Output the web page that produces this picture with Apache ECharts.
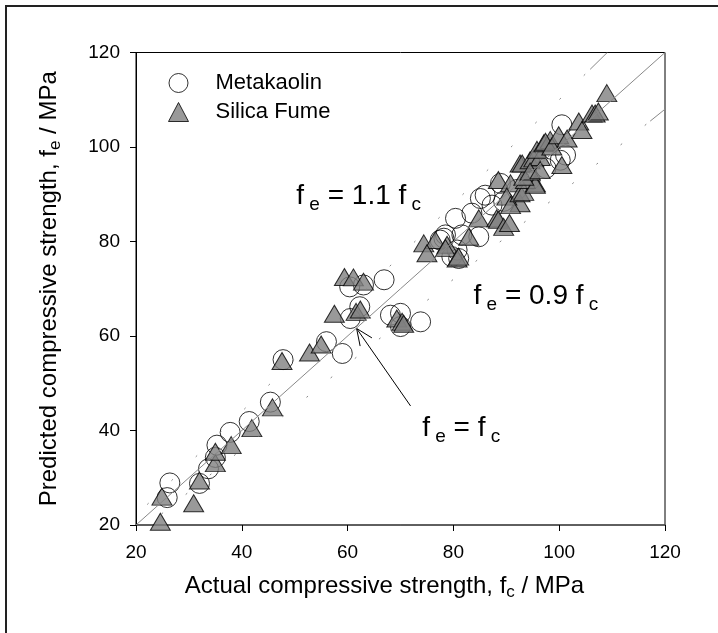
<!DOCTYPE html>
<html>
<head>
<meta charset="utf-8">
<script src="https://cdn.jsdelivr.net/npm/echarts@6/dist/echarts.min.js"></script>
<style>
html, body { margin: 0; padding: 0; background: #fff; }
#chart { width: 718px; height: 633px; }
</style>
</head>
<body>
<div id="chart"></div>
<script>
// actual strength f_c (x) vs predicted f_e (y), MPa
const metakaolin = [
  [25.9, 25.8], [26.4, 28.9], [32.0, 28.8], [33.7, 31.9], [35.0, 34.3], [35.3, 36.9],
  [37.8, 39.6], [41.4, 41.9], [45.4, 46.0], [47.8, 55.0], [56.0, 58.8], [59.0, 56.3],
  [60.5, 63.7], [62.3, 66.2], [60.4, 70.4], [63.0, 70.8], [66.9, 71.9], [68.1, 64.4],
  [70.0, 64.8], [70.0, 62.0], [73.8, 63.0], [77.5, 80.3], [78.2, 80.7], [79.7, 76.8],
  [80.7, 78.2], [81.0, 76.4], [78.5, 81.4], [81.6, 81.4], [84.8, 81.0], [80.4, 84.9],
  [83.5, 86.0], [86.0, 89.8], [87.3, 87.7], [85.1, 89.1], [88.9, 92.3], [89.5, 88.5],
  [92.0, 91.0], [100.5, 104.7], [101.2, 98.3], [100.2, 97.2], [97.5, 95.5], [94.5, 93.0]
]
const silicaFume = [
  [24.6, 20.7], [24.9, 26.0], [30.9, 24.6], [32.0, 29.4], [35.0, 33.1], [35.0, 35.5],
  [38.0, 36.9], [41.9, 40.5], [45.8, 44.9], [47.6, 54.7], [52.8, 56.5], [55.0, 58.2],
  [57.5, 64.7], [59.4, 72.5], [61.1, 72.4], [63.0, 71.5], [61.6, 65.1], [62.4, 65.6],
  [69.3, 63.7], [70.3, 63.0], [70.6, 62.6], [74.4, 79.6], [76.6, 80.3], [78.8, 79.3],
  [75.0, 77.5], [78.5, 78.6], [80.7, 76.4], [81.0, 76.8], [82.9, 81.0], [84.8, 84.9],
  [88.2, 84.9], [88.5, 84.6], [89.5, 83.1], [90.6, 83.9], [92.6, 88.1], [88.5, 93.0],
  [90.8, 92.3], [90.1, 89.5], [90.8, 87.7], [92.6, 90.2], [93.3, 90.5], [95.5, 92.3],
  [93.6, 93.0], [95.5, 92.0], [93.3, 93.7], [92.6, 96.5], [93.0, 96.5], [94.5, 97.2],
  [95.2, 97.6], [96.4, 97.9], [94.5, 94.8], [96.4, 95.1], [95.8, 99.4], [97.1, 100.8],
  [98.3, 101.5], [97.4, 101.1], [98.6, 100.1], [99.9, 102.5], [101.5, 101.8], [100.5, 96.2],
  [103.7, 105.4], [104.3, 103.6], [106.2, 107.1], [106.8, 107.1], [107.4, 107.5], [109.0, 111.4]
]

// reference lines f_e = k * f_c
const solidSlope = 1.0
const boundSlopes = [1.1, 0.9]

// annotations (data coords of text anchor, left / middle)
const noteAnchors = [[50.3, 89.6], [83.8, 68.5], [74.1, 40.5]]
const noteTexts = [
  '{m|f}{s| e}{m| = 1.1 f}{s| c}',
  '{m|f}{s| e}{m| = 0.9 f}{s| c}',
  '{m|f}{s| e}{m| = f}{s| c}'
]
const arrowFrom = [71.9, 45.2]
const arrowTo = [61.7, 61.6]

const axisMin = 20
const axisMax = 120
const axisStep = 20

const FONT = 'Liberation Sans'

function lineEnds (k) {
  const x0 = Math.max(axisMin, axisMin / k)
  const x1 = Math.min(axisMax, axisMax / k)
  // drawn from the top end down so the dash pattern starts there
  return [[x1, k * x1], [x0, k * x0]]
}

function dashPattern (first, firstGap, spacing) {
  const arr = [first, firstGap]
  for (let i = 0; i < 40; i++) arr.push(2, spacing)
  return arr
}

const chart = echarts.init(document.getElementById('chart'))

const noteRich = {
  m: { fontSize: 28, fontFamily: FONT, lineHeight: 36, fill: '#000' },
  s: { fontSize: 19, fontFamily: FONT, lineHeight: 10, verticalAlign: 'bottom', fill: '#000' }
}

const titleRich = {
  t: { fontSize: 24, fontFamily: FONT, color: '#000', lineHeight: 30 },
  s: { fontSize: 17, fontFamily: FONT, color: '#000', lineHeight: 10, verticalAlign: 'bottom' }
}

const option = {
  animation: false,
  backgroundColor: '#fff',
  graphic: [{
    type: 'rect',
    silent: true,
    z: -10,
    shape: { x: 6, y: 6, width: 900, height: 900 },
    style: { fill: null, stroke: '#222', lineWidth: 2 }
  }],
  grid: { left: 136, right: 53, top: 52.5, bottom: 108, show: true, borderColor: '#000', borderWidth: 1 },
  legend: {
    orient: 'vertical',
    left: 163,
    top: 67,
    itemWidth: 20,
    itemHeight: 19,
    itemGap: 7,
    selectedMode: false,
    itemStyle: { borderWidth: 1, borderColor: '#000' },
    textStyle: { fontSize: 22, fontFamily: FONT, color: '#000', padding: [0, 0, 0, 22] },
    data: [
      { name: 'Metakaolin', icon: 'circle' },
      { name: 'Silica Fume', icon: 'triangle' }
    ]
  },
  xAxis: {
    type: 'value',
    min: axisMin,
    max: axisMax,
    interval: axisStep,
    name: '{t|Actual compressive strength, f}{s|c}{t| / MPa}',
    nameLocation: 'middle',
    nameGap: 46,
    nameTextStyle: { padding: [0, 32, 0, 0], rich: titleRich },
    axisLine: { lineStyle: { color: '#555', width: 1.5 } },
    axisTick: { inside: false, length: 6, lineStyle: { color: '#000' } },
    axisLabel: { fontSize: 19, fontFamily: FONT, color: '#000', margin: 18 },
    splitLine: { show: false }
  },
  yAxis: {
    type: 'value',
    min: axisMin,
    max: axisMax,
    interval: axisStep,
    name: '{t|Predicted compressive strength, f}{s|e}{t| / MPa}',
    nameLocation: 'middle',
    nameGap: 72,
    nameTextStyle: { rich: titleRich },
    axisLine: { lineStyle: { color: '#000', width: 1 } },
    axisTick: { inside: false, length: 6, lineStyle: { color: '#000' } },
    axisLabel: { fontSize: 19, fontFamily: FONT, color: '#000', margin: 16 },
    splitLine: { show: false }
  },
  series: [
    {
      type: 'line',
      data: lineEnds(solidSlope),
      symbol: 'none',
      silent: true,
      lineStyle: { color: '#888', width: 1 }
    },
    {
      type: 'line',
      data: lineEnds(boundSlopes[0]),
      symbol: 'none',
      silent: true,
      lineStyle: { color: '#888', width: 1, type: dashPattern(24, 7, 32) }
    },
    {
      type: 'line',
      data: lineEnds(boundSlopes[1]),
      symbol: 'none',
      silent: true,
      lineStyle: { color: '#888', width: 1, type: dashPattern(19, 5, 29) }
    },
    {
      name: 'Metakaolin',
      type: 'scatter',
      data: metakaolin,
      symbol: 'circle',
      symbolSize: 20,
      itemStyle: { color: 'rgba(255,255,255,0)', borderColor: '#000', borderWidth: 1 }
    },
    {
      name: 'Silica Fume',
      type: 'scatter',
      data: silicaFume,
      symbol: 'triangle',
      symbolSize: [20, 17],
      itemStyle: { color: '#7f7f7f', borderColor: '#000', borderWidth: 1 }
    },
    {
      type: 'custom',
      silent: true,
      data: [[arrowFrom[0], arrowFrom[1], arrowTo[0], arrowTo[1]]],
      encode: { x: [0, 2], y: [1, 3] },
      renderItem: function (params, api) {
        const p0 = api.coord([api.value(0), api.value(1)])
        const p1 = api.coord([api.value(2), api.value(3)])
        const ang = Math.atan2(p0[1] - p1[1], p0[0] - p1[0])
        const len = 18
        const spread = 0.41
        const h1 = [p1[0] + len * Math.cos(ang + spread), p1[1] + len * Math.sin(ang + spread)]
        const h2 = [p1[0] + len * Math.cos(ang - spread), p1[1] + len * Math.sin(ang - spread)]
        return {
          type: 'group',
          children: [
            { type: 'line', shape: { x1: p0[0], y1: p0[1], x2: p1[0], y2: p1[1] }, style: { stroke: '#000', lineWidth: 1 } },
            { type: 'polyline', shape: { points: [h1, p1, h2] }, style: { stroke: '#000', fill: null, lineWidth: 1 } }
          ]
        }
      }
    },
    {
      type: 'custom',
      silent: true,
      data: noteAnchors,
      renderItem: function (params, api) {
        const p = api.coord([api.value(0), api.value(1)])
        return {
          type: 'text',
          x: p[0],
          y: p[1],
          style: {
            text: noteTexts[params.dataIndex],
            rich: noteRich,
            align: 'left',
            verticalAlign: 'middle',
            fill: '#000'
          }
        }
      }
    }
  ]
}

chart.setOption(option)
</script>
</body>
</html>
